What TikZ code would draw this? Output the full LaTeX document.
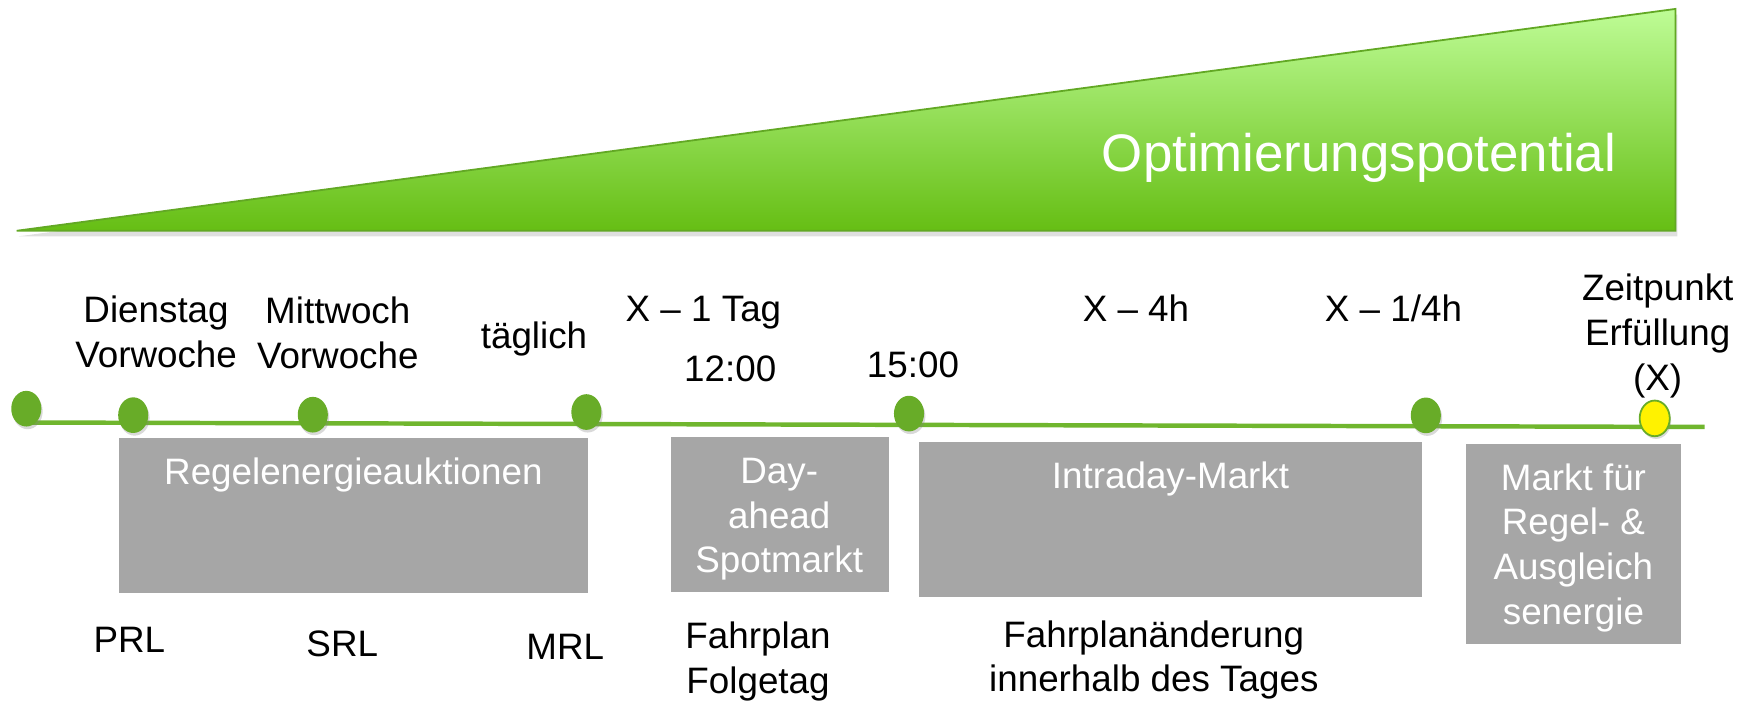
\documentclass[tikz,border=0pt]{standalone}
\usepackage{fontspec}
\setmainfont{Liberation Sans}
\usetikzlibrary{shapes.geometric,shadows}

\definecolor{boxgray}{RGB}{166,166,166}
\definecolor{dotgreen}{RGB}{104,172,40}
\definecolor{linegreen}{RGB}{112,182,46}
\definecolor{wedgetop}{RGB}{190,252,150}
\definecolor{wedgebot}{RGB}{102,190,20}
\definecolor{wedgeline}{RGB}{98,168,36}

\tikzset{
  lbl/.style={font=\fontsize{16.5}{20}\selectfont, align=center, anchor=base, inner sep=0pt},
  boxlbl/.style={lbl, text=white},
  gbox/.style={fill=boxgray},
  tdot/.style={ellipse, minimum width=13.5pt, minimum height=16pt, inner sep=0pt, fill=dotgreen,
    drop shadow={shadow xshift=0.6pt, shadow yshift=-1.2pt, opacity=0.3}},
}

\begin{document}
\begin{tikzpicture}[x=0.5pt, y=-0.5pt]
    \useasboundingbox (0,0) rectangle (1568,631);

    % Draw the wedge
    \draw[wedgeline, line width=0.8pt, top color=wedgetop, bottom color=wedgebot,
      drop shadow={shadow xshift=0.8pt, shadow yshift=-2.5pt, opacity=0.25}]
      (15,207) -- (1503,8) -- (1503,207) -- cycle;
    \node[lbl, font=\fontsize{23.7}{28}\selectfont, text=white] (opt) at (1219,154) {Optimierungspotential};

    % Draw the time line
    \coordinate (t0) at (21,379);
    \coordinate (t1) at (1529,383);
    \draw[linegreen, line width=2pt] (t0) -- (t1);

    % Add the points in time
    \node[tdot] (d0) at (23.6,366.6) {};
    \node[tdot] (d1) at (119.5,372.4) {};
    \node[tdot] (d2) at (280.6,372) {};
    \node[tdot] (d3) at (526,369.6) {};
    \node[tdot] (d4) at (815.4,371) {};
    \node[tdot] (d5) at (1279,372.6) {};
    \node[tdot, fill=yellow, draw=dotgreen, line width=0.8pt] (dx) at (1484.3,375.3) {};

    % Label the times (base = last line)
    \node[lbl] (dienstag) at (140,329.5) {Dienstag\\Vorwoche};
    \node[lbl] (mittwoch) at (303,330.4) {Mittwoch\\Vorwoche};
    \node[lbl] (taeglich) at (479,312.5) {täglich};
    \node[lbl] (xtag) at (631,288.5) {X – 1 Tag};
    \node[lbl] (zwoelf) at (655,342.4) {12:00};
    \node[lbl] (fuenfzehn) at (819,338.5) {15:00};
    \node[lbl] (xvier) at (1019,288.5) {X – 4h};
    \node[lbl] (xviertel) at (1250,288.5) {X – 1/4h};
    \node[lbl] (zeitpunkt) at (1487,350) {Zeitpunkt\\Erfüllung\\(X)};

    % Draw the markets
    \fill[gbox] (106.6,393.2) rectangle (527.8,532.2);
    \fill[gbox] (601.5,392.3) rectangle (797.1,531.3);
    \fill[gbox] (824.1,396.8) rectangle (1275.2,535.8);
    \fill[gbox] (1315.3,398.3) rectangle (1507.5,578);
    \node[boxlbl] (regel) at (317,435) {Regelenergieauktionen};
    \node[boxlbl] (dayahead) at (699,513.7) {Day-\\ahead\\Spotmarkt};
    \node[boxlbl] (intraday) at (1050,438) {Intraday-Markt};
    \node[boxlbl] (ausgleich) at (1411.4,559.8) {Markt für\\Regel- \&\\Ausgleich\\senergie};

    % Add the products below
    \node[lbl] (prl) at (116,585.5) {PRL};
    \node[lbl] (srl) at (307,589) {SRL};
    \node[lbl] (mrl) at (507,592) {MRL};
    \node[lbl] (fahrplan) at (680,622) {Fahrplan\\Folgetag};
    \node[lbl] (aenderung) at (1035,620.5) {Fahrplanänderung\\innerhalb des Tages};
\end{tikzpicture}
\end{document}
